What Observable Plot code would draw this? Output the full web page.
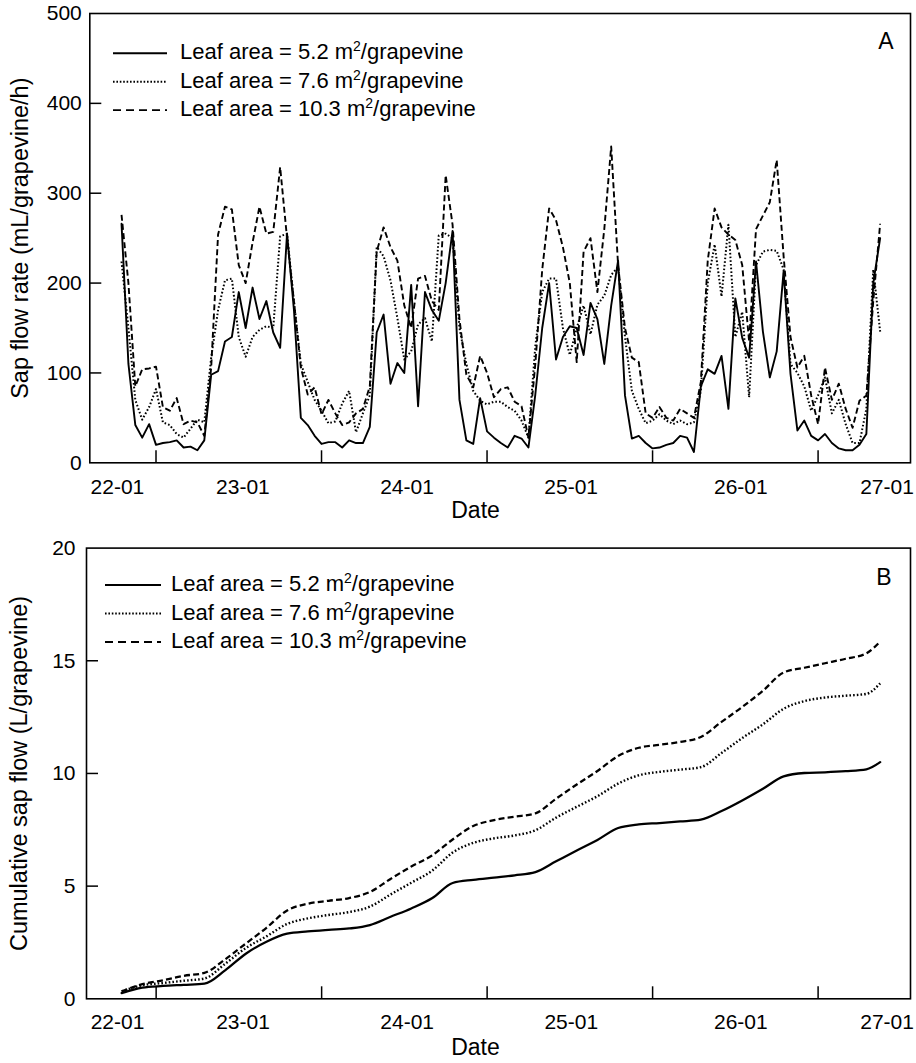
<!DOCTYPE html>
<html><head><meta charset="utf-8">
<script src="https://cdn.jsdelivr.net/npm/d3@7"></script>
<script src="https://cdn.jsdelivr.net/npm/@observablehq/plot@0.6"></script>
<style>
body{margin:0;background:#fff;}
#chart{width:916px;}
#chart svg{display:block;}
</style></head><body><div id="chart"></div>
<script>
// ---- data ----
// hours since 22-01 00:00 (hourly sap-flow readings)
const hours = [7,8,9,10,11,12,13,14,15,16,17,18,19,20,21,22,23,24,25,26,27,28,29,30,31,32,33,34,35,36,37,38,39,40,41,42,43,44,45,46,47,48,49,50,51,52,53,54,55,56,57,58,59,60,61,62,63,64,65,66,67,68,69,70,71,72,73,74,75,76,77,78,79,80,81,82,83,84,85,86,87,88,89,90,91,92,93,94,95,96,97,98,99,100,101,102,103,104,105,106,107,108,109,110,111,112,113,114,115,116,117];
// sap flow rate, mL/grapevine/h
const rate52 = [266,110,42,28,43,20,22,23,25,17,18,14,25,98,102,135,140,190,150,195,160,180,145,128,255,170,50,42,
  30,21,23,23,17,25,22,22,40,145,165,88,111,100,198,63,190,170,158,200,258,70,25,21,72,35,28,
  22,17,30,27,17,76,150,200,115,140,152,150,120,178,160,110,175,225,75,27,30,22,16,17,20,22,30,28,
  12,85,104,99,119,60,183,139,117,224,146,95,124,213,99,36,47,30,25,32,22,16,14,14,20,32,200,250];
const rate76 = [224,150,70,48,62,82,45,42,32,28,38,48,45,117,170,203,205,140,118,140,148,152,150,252,255,180,110,90,
  70,58,44,46,66,80,34,55,75,240,230,203,161,115,124,154,161,135,253,255,250,150,110,80,69,65,68,
  68,62,58,47,28,130,190,205,205,150,120,150,175,143,176,186,209,218,140,80,60,44,47,54,47,43,47,43,
  45,80,200,243,185,265,140,168,73,220,235,237,236,215,110,100,85,58,75,95,55,70,43,22,22,60,215,146];
const rate103 = [276,200,85,104,105,107,62,58,72,43,47,45,30,106,254,285,282,220,200,245,285,255,257,329,250,180,106,76,
  84,54,70,55,42,45,55,60,85,235,262,240,225,175,150,205,208,180,170,320,265,160,98,84,119,100,73,
  82,84,68,63,28,110,215,283,270,240,200,112,235,250,190,260,352,220,150,117,112,55,50,62,50,47,60,55,
  50,90,225,283,262,254,248,220,135,260,275,290,337,230,140,106,119,75,43,106,70,88,60,39,69,75,180,266];

// cumulative sap flow, L/grapevine
const cumHours = [7,10,13,16,19,22,25,28,31,34,37,40,43,46,49,52,55,58,61,64,67,70,73,76,79,82,85,88,91,94,97,100,103,106,109,112,115,117];
const cum52 = [0.25,0.50,0.57,0.62,0.67,1.26,2.00,2.53,2.89,2.99,3.06,3.12,3.27,3.64,4.01,4.46,5.14,5.28,5.38,5.48,5.62,6.10,6.58,7.05,7.58,7.74,7.80,7.87,7.95,8.33,8.80,9.32,9.87,10.02,10.05,10.10,10.18,10.50];
const cum76 = [0.33,0.60,0.70,0.80,0.90,1.55,2.25,2.77,3.32,3.57,3.72,3.85,4.09,4.63,5.15,5.68,6.49,6.92,7.12,7.25,7.48,8.04,8.52,8.99,9.55,9.92,10.07,10.17,10.28,10.91,11.57,12.18,12.87,13.21,13.37,13.45,13.53,14.00];
const cum103 = [0.33,0.65,0.82,1.02,1.15,1.75,2.45,3.15,3.92,4.22,4.35,4.47,4.74,5.32,5.87,6.36,7.07,7.67,7.93,8.08,8.23,8.88,9.51,10.11,10.77,11.14,11.27,11.40,11.62,12.29,12.95,13.67,14.48,14.69,14.89,15.09,15.33,15.85];

const leafAreas = ["5.2", "7.6", "10.3"];
const dateTickHours = [6.4, 24.6, 48.4, 72.2, 96.8, 118];
const dateTickLabels = ["22-01", "23-01", "24-01", "25-01", "26-01", "27-01"];
const noonTickHours = [12, 36, 60, 84, 108];
const rateTicks = [0, 100, 200, 300, 400, 500];
const rateInnerTicks = [100, 200, 300, 400];
const cumTicks = [0, 5, 10, 15, 20];
const cumInnerTicks = [5, 10, 15];

// ---- styles ----
const FONT = "'Liberation Sans', Arial, Helvetica, sans-serif";
const lineStyles = [
  {dash: null, cap: "round", width: 1.9, legendDash: null},
  {dash: "1.6,2.1", cap: "butt", width: 2.0, legendDash: "1.6,1.8"},
  {dash: "6,3.2", cap: "butt", width: 1.9, legendDash: "8,5"}
];

function rows(xs, ys) { return xs.map((h, i) => ({h, v: ys[i]})); }

function drawPanel(cfg) {
  const W = 916;
  const fw = W - cfg.ml - cfg.mr;
  const fh = cfg.height - cfg.mt - cfg.mb;
  const marks = [
    Plot.tickY(cfg.innerY, {y: d => d, insetRight: fw - 12, stroke: "#000", strokeWidth: 1.5}),
    Plot.tickX(noonTickHours, {x: d => d, insetTop: fh - 12, stroke: "#000", strokeWidth: 1.5}),
    Plot.axisY({ticks: cfg.yTicks, tickSize: 0, tickPadding: cfg.yPad, label: null, fontSize: 21}),
    Plot.axisX({ticks: dateTickHours, tickSize: 0, tickPadding: cfg.xPad, label: null, fontSize: 21,
      tickFormat: d => dateTickLabels[dateTickHours.indexOf(d)]}),
    Plot.text([cfg.yTitle], {frameAnchor: "left", rotate: -90, dx: cfg.yTitleDx, textAnchor: "middle", lineAnchor: "middle", fontSize: 23.5}),
    Plot.text(["Date"], {frameAnchor: "bottom", dx: cfg.dateDx, dy: cfg.dateDy, textAnchor: "middle", lineAnchor: "middle", fontSize: 23}),
    Plot.text([cfg.letter], {frameAnchor: "top-right", dx: cfg.letterDx, dy: cfg.letterDy, textAnchor: "end", lineAnchor: "top", fontSize: 23}),
    ...cfg.series.map((s, k) => Plot.line(s, {
      x: "h", y: "v", stroke: "#000", curve: cfg.curve,
      strokeWidth: lineStyles[k].width * cfg.widthScale,
      strokeDasharray: lineStyles[k].dash,
      strokeLinecap: lineStyles[k].cap
    })),
    Plot.frame({stroke: "#000", strokeWidth: 1.6})
  ];
  const svg = Plot.plot({
    width: W, height: cfg.height,
    marginTop: cfg.mt, marginBottom: cfg.mb, marginLeft: cfg.ml, marginRight: cfg.mr,
    x: {domain: cfg.xDomain},
    y: {domain: cfg.yDomain},
    style: {fontFamily: FONT, fontSize: "21px", color: "#000", background: "#fff", overflow: "visible"},
    marks
  });
  // in-plot legend
  const g = d3.select(svg).append("g")
    .attr("font-family", FONT).attr("font-size", 22).attr("fill", "#000")
    .attr("text-anchor", "start");
  leafAreas.forEach((la, k) => {
    const y = cfg.legY0 + k * cfg.legStep;
    g.append("line")
      .attr("x1", cfg.legX1).attr("x2", cfg.legX2).attr("y1", y).attr("y2", y)
      .attr("stroke", "#000").attr("stroke-width", lineStyles[k].width)
      .attr("stroke-dasharray", lineStyles[k].legendDash);
    const t = g.append("text").attr("x", cfg.legTextX).attr("y", y + 6).attr("text-anchor", "start");
    t.append("tspan").text(`Leaf area = ${la} m`);
    t.append("tspan").attr("font-size", 14).attr("dy", -8).text("2");
    t.append("tspan").attr("dy", 8).text("/grapevine");
  });
  return svg;
}

const chart = document.getElementById("chart");

chart.appendChild(drawPanel({
  height: 530, mt: 13, mb: 67.7, ml: 89.3, mr: 6,
  xDomain: [2.4, 121.4], yDomain: [0, 500],
  yTicks: rateTicks, innerY: rateInnerTicks, yPad: 8, xPad: 16,
  yTitle: "Sap flow rate (mL/grapevine/h)", yTitleDx: -69.3,
  dateDx: -24.6, dateDy: 48,
  letter: "A", letterDx: -17, letterDy: 18.7,
  widthScale: 1, curve: "linear",
  series: [rows(hours, rate52), rows(hours, rate76), rows(hours, rate103)],
  legX1: 113, legX2: 167, legTextX: 180, legY0: 53.3, legStep: 28.4
}));

chart.appendChild(drawPanel({
  height: 533, mt: 17.6, mb: 64.7, ml: 86, mr: 6,
  xDomain: [1.9, 121.4], yDomain: [0, 20],
  yTicks: cumTicks, innerY: cumInnerTicks, yPad: 11, xPad: 15,
  yTitle: "Cumulative sap flow (L/grapevine)", yTitleDx: -67,
  dateDx: -23, dateDy: 48.4,
  letter: "B", letterDx: -19, letterDy: 20.5,
  widthScale: 1.2, curve: "monotone-x",
  series: [rows(cumHours, cum52), rows(cumHours, cum76), rows(cumHours, cum103)],
  legX1: 105, legX2: 161, legTextX: 171, legY0: 55, legStep: 28.5
}));
</script>
</body></html>
